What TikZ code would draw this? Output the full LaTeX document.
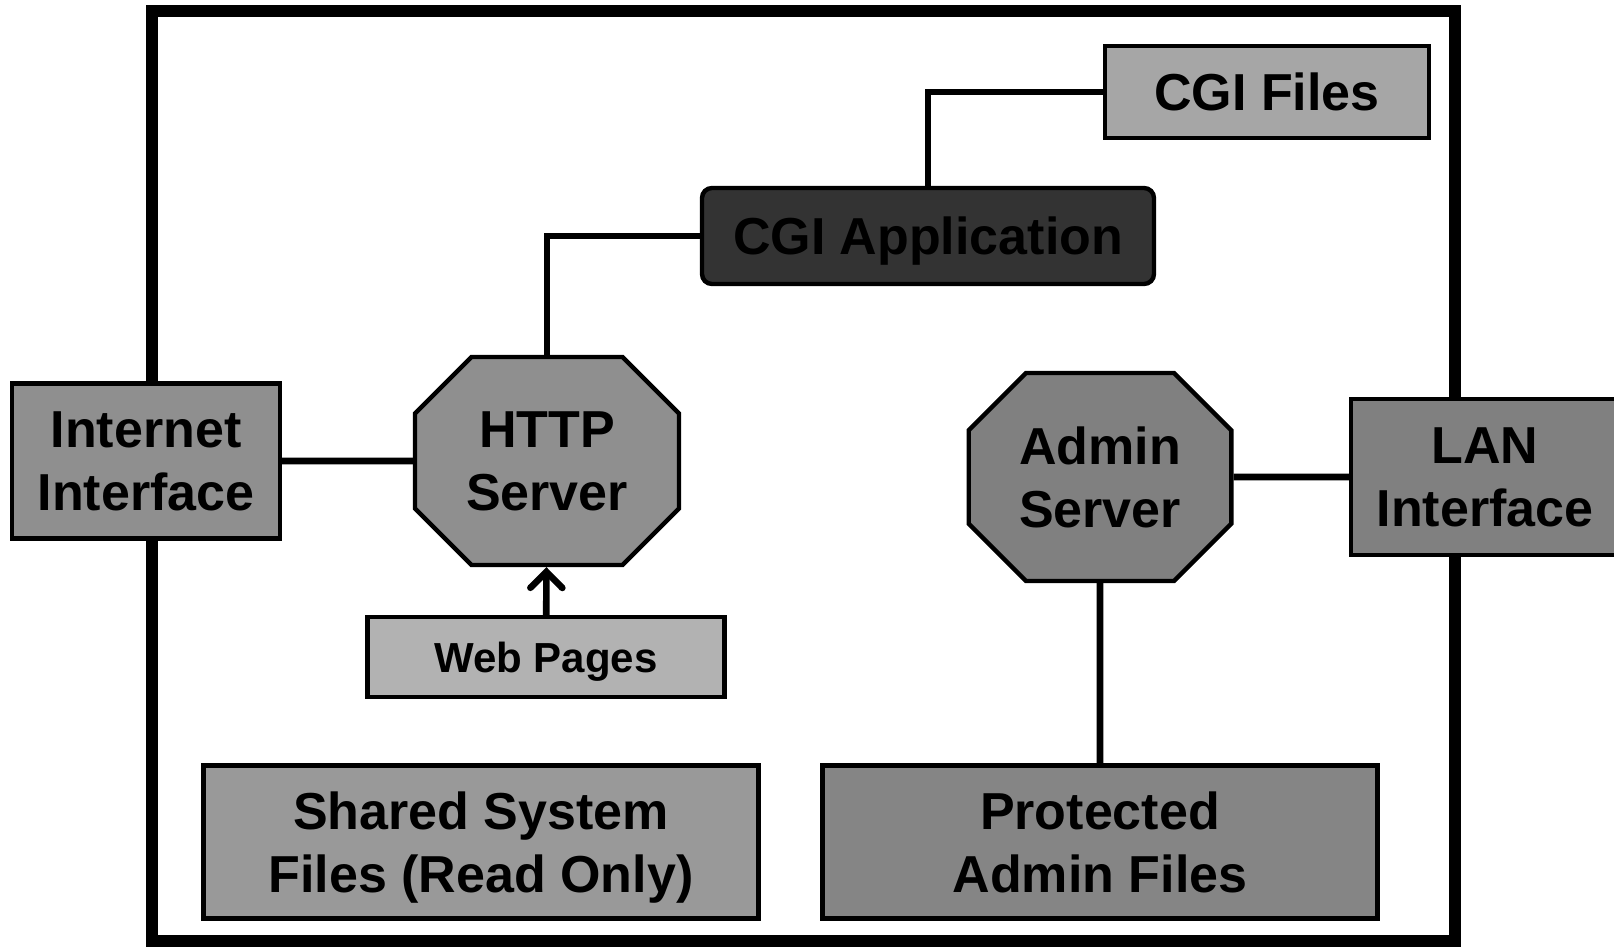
\documentclass[tikz,border=0pt]{standalone}
\usepackage{fontspec}
\setmainfont{Liberation Sans}
\usetikzlibrary{shapes.misc,arrows.meta}

\definecolor{ifgray}{gray}{0.56}
\definecolor{langray}{gray}{0.50}
\definecolor{pagegray}{gray}{0.70}
\definecolor{filegray}{gray}{0.65}
\definecolor{appgray}{gray}{0.20}
\definecolor{sharedgray}{gray}{0.60}
\definecolor{protgray}{gray}{0.52}

\tikzset{
	box/.style={draw,line width=2.2pt,inner sep=0pt,align=center,text depth=0pt,
		font=\fontsize{26}{31.5}\selectfont\bfseries},
	server/.style={box,chamfered rectangle,chamfered rectangle xsep=31pt,
		minimum width=132pt,minimum height=104pt},
	link/.style={line width=3.3pt}
}

\begin{document}
\begin{tikzpicture}[x=0.5pt,y=-0.5pt]
		\useasboundingbox (0,0) rectangle (1614,947);
		% outer frame
		\draw[line width=5.6pt] (152,11) rectangle (1455,941);
		% interfaces and servers
		\node[box,fill=ifgray,minimum width=134pt,minimum height=77.5pt] (inet) at (146,461) {Internet\\Interface};
		\node[server,fill=ifgray] (http) at (547,461) {HTTP\\Server};
		\node[box,fill=pagegray,minimum width=178.5pt,minimum height=40pt,font=\fontsize{21}{25}\selectfont\bfseries] (pages) at (546,657) {Web Pages};
		\node[box,fill=appgray,rounded corners=5pt,minimum width=226pt,minimum height=48pt] (cgiapp) at (928,236) {CGI Application};
		\node[box,fill=filegray,minimum width=162pt,minimum height=46pt] (cgifiles) at (1267,92) {CGI Files};
		\node[server,fill=langray,minimum width=131pt] (admin) at (1100,477) {Admin\\Server};
		\node[box,fill=langray,minimum width=134pt,minimum height=78pt] (lan) at (1485,477) {LAN\\Interface};
		% file areas
		\node[box,fill=sharedgray,minimum width=277.5pt,minimum height=76.5pt] (shared) at (481,842) {Shared System\\Files (Read Only)};
		\node[box,fill=protgray,minimum width=277.5pt,minimum height=76.5pt] (prot) at (1100,842) {Protected\\Admin Files};
		% connectors
		\draw[link] (inet) -- (http);
		\draw[link] (http.north) |- (cgiapp.west);
		\draw[link] (cgiapp.north) |- (cgifiles.west);
		\draw[link,-{Straight Barb[length=8pt,width=16pt,line cap=round]}] (pages) -- (http);
		\draw[link] (admin) -- (lan);
		\draw[link] (admin) -- (prot);
\end{tikzpicture}
\end{document}
